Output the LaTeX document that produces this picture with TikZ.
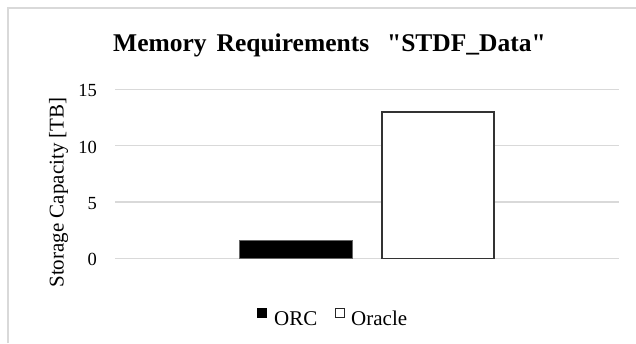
\documentclass[tikz,border=0pt]{standalone}
\usepackage{fontspec}
\setmainfont{Liberation Serif}[Ligatures=TeXOff]
\definecolor{gridgray}{HTML}{D9D9D9}
\definecolor{framegray}{HTML}{D9D9D9}
\tikzset{
  gridline/.style={draw=gridgray, line width=1.3pt},
  framel/.style={draw=framegray, line width=1.2pt},
  ticklab/.style={anchor=base east, inner sep=0pt, font=\fontsize{18.5}{20}\selectfont},
  leglab/.style={anchor=base west, inner sep=0pt, font=\fontsize{21}{24}\selectfont},
}
\begin{document}
\begin{tikzpicture}[x=1pt,y=-1pt]
\useasboundingbox (0,0) rectangle (636,343);
% frame
\draw[framel] (8,343) -- (8,8) -- (636,8);
% title
\node[anchor=base, inner sep=0pt, font=\fontsize{25.5}{28}\selectfont\bfseries] (title) at (329.5,51.7)
  {Memory\hspace{10pt}Requirements\hspace{18pt}"STDF\_Data"};
% gridlines
\foreach \v/\y in {0/258.3,5/202,10/145.7,15/89.3}{
  \draw[gridline] (115,\y) -- (619,\y);
  \node[ticklab] (tick\v) at (97,\y+7.5) {\v};
}
% y label
\node[anchor=base, rotate=90, inner sep=0pt, font=\fontsize{21}{24}\selectfont] (ylab) at (63.5,192.5) {Storage Capacity [TB]};
% bars
\filldraw[fill=black, draw=black!60, line width=0.6pt] (239,240) rectangle (352,258.3);
\filldraw[fill=white, draw=black!80, line width=1.4pt] (382,112) rectangle (494,258.3);
% legend
\fill[black] (257,308) rectangle (267,318);
\node[leglab] (orc) at (274,325) {ORC};
\draw[black!85, line width=1.3pt, fill=white] (335.7,308.7) rectangle (344.3,317.3);
\node[leglab] (oracle) at (351,325) {Oracle};
\end{tikzpicture}
\end{document}
